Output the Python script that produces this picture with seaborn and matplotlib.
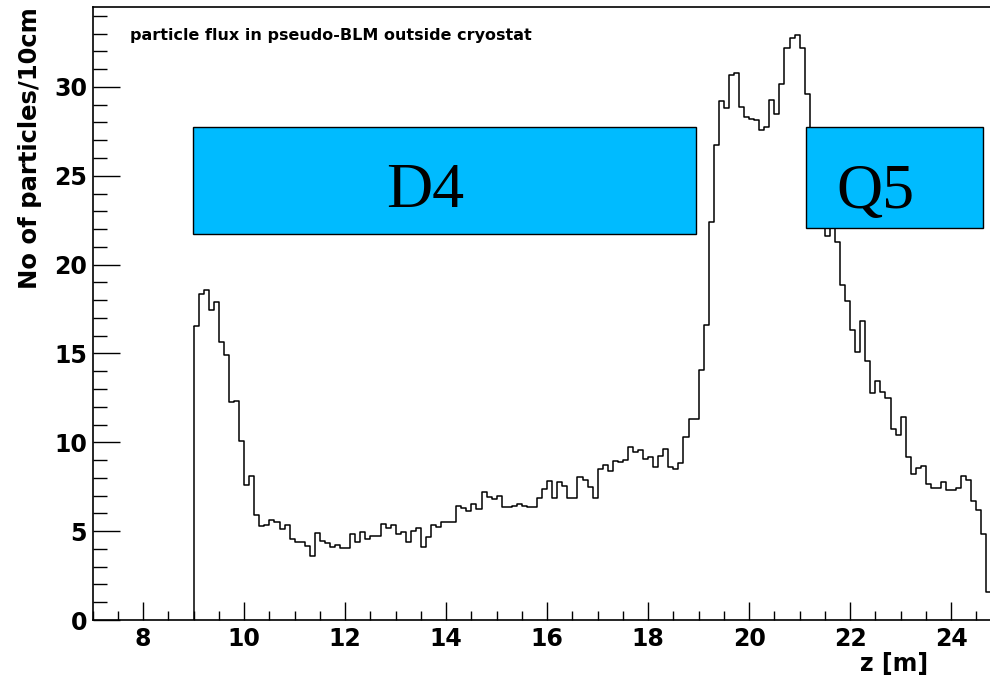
import numpy as np
import pandas as pd
import matplotlib
matplotlib.use("Agg")
import matplotlib.pyplot as plt
from matplotlib.patches import Rectangle
from matplotlib.ticker import MultipleLocator
import seaborn as sns

# histogram: particles per 10 cm bin, starting at z = 9.0 m
z_start = 9.0
bin_width = 0.1
counts = [
    16.56, 18.37, 18.55, 17.43, 17.88, 15.64, 14.89, 12.28, 12.32, 10.05,
    7.60, 8.13, 5.90, 5.31, 5.35, 5.60, 5.50, 5.10, 5.35, 4.55,
    4.39, 4.39, 4.17, 3.60, 4.88, 4.45, 4.36, 4.13, 4.23, 4.04,
    4.04, 4.83, 4.38, 4.97, 4.55, 4.73, 4.73, 5.41, 5.16, 5.37,
    4.85, 4.98, 4.41, 5.03, 5.20, 4.10, 4.66, 5.33, 5.24, 5.50,
    5.50, 5.50, 6.44, 6.33, 6.14, 6.52, 6.25, 7.21, 6.91, 6.82,
    6.99, 6.35, 6.38, 6.42, 6.54, 6.44, 6.38, 6.35, 6.84, 7.36,
    7.85, 6.87, 7.74, 7.55, 6.85, 6.85, 8.07, 7.89, 7.51, 6.85,
    8.49, 8.73, 8.41, 8.97, 8.92, 9.01, 9.76, 9.43, 9.54, 9.05,
    9.16, 8.60, 9.24, 9.63, 8.60, 8.49, 8.86, 10.29, 11.31, 11.31,
    14.08, 16.62, 22.40, 26.76, 29.20, 28.79, 30.65, 30.80, 28.90, 28.32,
    28.20, 28.13, 27.60, 27.74, 29.24, 28.45, 30.18, 32.20, 32.77, 32.90,
    32.20, 29.63, 26.50, 24.50, 23.00, 21.63, 22.40, 21.26, 18.87, 17.97,
    16.34, 15.08, 16.81, 14.55, 12.77, 13.46, 12.86, 12.49, 10.74, 10.42,
    11.40, 9.16, 8.23, 8.54, 8.68, 7.66, 7.42, 7.42, 7.74, 7.32,
    7.29, 7.42, 8.11, 7.89, 6.67, 6.20, 4.85, 1.60,
]

# magnet boxes
magnets = ["D4", "Q5"]
magnet_z0 = [8.99, 21.12]
magnet_z1 = [18.95, 24.64]
magnet_ylo = [21.75, 22.07]
magnet_yhi = [27.72, 27.72]
label_z = [13.58, 22.51]
label_y = [24.1, 24.05]

edges = z_start + bin_width * np.arange(len(counts) + 1)
df = pd.DataFrame({"z": 0.5 * (edges[:-1] + edges[1:]), "n": counts})

sns.set_style("ticks")
plt.rcParams["font.family"] = ["DejaVu Sans"]
plt.rcParams["font.weight"] = "bold"
for key in ["text.color", "axes.labelcolor", "xtick.color", "ytick.color", "axes.edgecolor"]:
    plt.rcParams[key] = "black"

fig = plt.figure(figsize=(9.9, 6.83), dpi=100)
ax = fig.add_axes([92.7 / 990, 63 / 683, 897.3 / 990, 613 / 683])

sns.histplot(data=df, x="z", weights="n", bins=list(edges), element="step", fill=False,
             color="black", linewidth=1.1, ax=ax)
# close the step outline at the first bin edge, like ROOT does
ax.vlines(edges[0], 0, counts[0], color="black", linewidth=1.1)

for name, z0, z1, ylo, yhi, tz, ty in zip(magnets, magnet_z0, magnet_z1,
                                          magnet_ylo, magnet_yhi, label_z, label_y):
    ax.add_patch(Rectangle((z0, ylo), z1 - z0, yhi - ylo, facecolor="#00bbff",
                           edgecolor="black", linewidth=1.0, zorder=5))
    ax.text(tz, ty, name, fontsize=46, family="Liberation Serif", fontweight="normal",
            color="black", ha="center", va="center", zorder=6)

ax.set_xlim(7, 24.77)
ax.set_ylim(0, 34.5)
ax.xaxis.set_major_locator(MultipleLocator(2))
ax.xaxis.set_minor_locator(MultipleLocator(0.5))
ax.yaxis.set_major_locator(MultipleLocator(5))
ax.yaxis.set_minor_locator(MultipleLocator(1))
ax.tick_params(axis="x", which="major", direction="in", length=13, width=1, labelsize=17, pad=5)
ax.tick_params(axis="x", which="minor", direction="in", length=6.5, width=1)
ax.tick_params(axis="y", which="major", direction="in", length=19.5, width=1, labelsize=17, pad=4)
ax.tick_params(axis="y", which="minor", direction="in", length=10, width=1)
for lab in ax.get_xticklabels() + ax.get_yticklabels():
    lab.set_fontweight("bold")

for side in ["left", "bottom", "top"]:
    ax.spines[side].set_linewidth(1.2)
ax.spines["right"].set_visible(False)

ax.set_xlabel("z [m]", fontsize=17, fontweight="bold", loc="right")
ax.xaxis.set_label_coords(0.931, -0.052)
ax.set_ylabel("No of particles/10cm", fontsize=17.5, fontweight="bold", loc="top")
ax.yaxis.set_label_coords(-0.0565, 1.0)

ax.text(0.042, 0.946, "particle flux in pseudo-BLM outside cryostat", transform=ax.transAxes,
        fontsize=11.5, fontweight="bold", ha="left", va="baseline")

fig.savefig("out.png", dpi=100)
